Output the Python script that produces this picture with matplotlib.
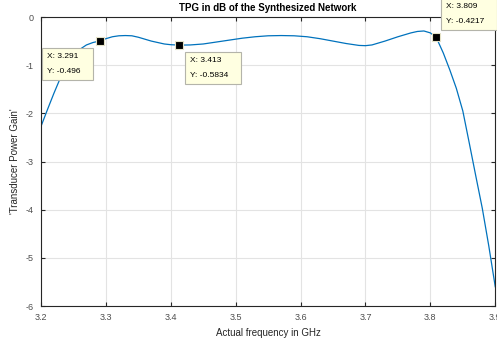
import matplotlib
matplotlib.use("Agg")
import matplotlib.pyplot as plt

plt.rcParams['font.family'] = ['Liberation Sans', 'DejaVu Sans']
plt.rcParams['axes.unicode_minus'] = False

# frequency (GHz) and transducer power gain (dB)
freq = [3.200, 3.210, 3.220, 3.230, 3.240, 3.250, 3.260, 3.270, 3.280, 3.291,
        3.300, 3.310, 3.320, 3.330, 3.340, 3.350, 3.360, 3.370, 3.380, 3.390,
        3.400, 3.413, 3.430, 3.450, 3.470, 3.490, 3.510, 3.530, 3.550, 3.570,
        3.590, 3.610, 3.630, 3.650, 3.670, 3.690, 3.700, 3.710, 3.730, 3.750,
        3.770, 3.780, 3.790, 3.800, 3.809, 3.820, 3.830, 3.840, 3.850, 3.860,
        3.870, 3.880, 3.890, 3.900]
tpg = [-2.27, -1.92, -1.58, -1.26, -1.00, -0.80, -0.67, -0.58, -0.53, -0.496,
       -0.45, -0.41, -0.39, -0.385, -0.39, -0.42, -0.46, -0.50, -0.53, -0.56,
       -0.575, -0.5834, -0.58, -0.56, -0.52, -0.48, -0.44, -0.41, -0.39, -0.385,
       -0.39, -0.41, -0.45, -0.50, -0.55, -0.59, -0.595, -0.58, -0.50, -0.41,
       -0.33, -0.30, -0.29, -0.33, -0.4217, -0.75, -1.10, -1.48, -1.95, -2.62,
       -3.30, -3.97, -4.75, -5.60]

# data tips
tip_x = [3.291, 3.413, 3.809]
tip_y = [-0.496, -0.5834, -0.4217]
tip_txt = ['X: 3.291\nY: -0.496', 'X: 3.413\nY: -0.5834', 'X: 3.809\nY: -0.4217']
tip_off = [(-53, -12), (11, -12), (10, 12)]   # pixels from the marker to the text corner
tip_va = ['top', 'top', 'bottom']

xticks = [3.2, 3.3, 3.4, 3.5, 3.6, 3.7, 3.8, 3.9]
yticks = [0, -1, -2, -3, -4, -5, -6]

fig = plt.figure(figsize=(4.97, 3.47), dpi=100)
ax = fig.add_axes([0.0825, 0.118, 0.914, 0.833])

ax.plot(freq, tpg, color='#0072BD', lw=0.9)
ax.set_xlim(3.2, 3.9)
ax.set_ylim(-6, 0)
ax.set_xticks(xticks)
ax.set_xticklabels(['3.2', '3.3', '3.4', '3.5', '3.6', '3.7', '3.8', '3.9'])
ax.set_yticks(yticks)
ax.grid(True, color='#E3E3E3', lw=0.8)
ax.set_axisbelow(True)
ax.tick_params(direction='in', length=3, width=0.8, labelsize=6.5,
               colors='#262626', labelcolor='#4D4D4D', top=True, right=True, pad=5)
for s in ax.spines.values():
    s.set_color('#262626')
    s.set_linewidth(0.8)

ax.set_title('TPG in dB of the Synthesized Network', fontsize=7, fontweight='bold', pad=4)
ax.set_xlabel('Actual frequency in GHz', fontsize=7, color='#262626', labelpad=4)
ax.set_ylabel("'Transducer Power Gain'", fontsize=7, color='#262626', labelpad=4.5)

for x, y, t, off, va in zip(tip_x, tip_y, tip_txt, tip_off, tip_va):
    ax.plot(x, y, 's', ms=6, mfc='black', mec='#E6E3C8', mew=0.8, zorder=5)
    lines = t.split('\n')
    ax.annotate('\n'.join(l + '   ' for l in lines), (x, y), xytext=off,
                textcoords='offset pixels', ha='left', va=va, fontsize=6,
                linespacing=2.6, annotation_clip=False, zorder=6,
                bbox=dict(boxstyle='square,pad=0.6', fc='#FFFFE1', ec='#B4B4AA', lw=0.8))

fig.savefig('out.png', dpi=100)
